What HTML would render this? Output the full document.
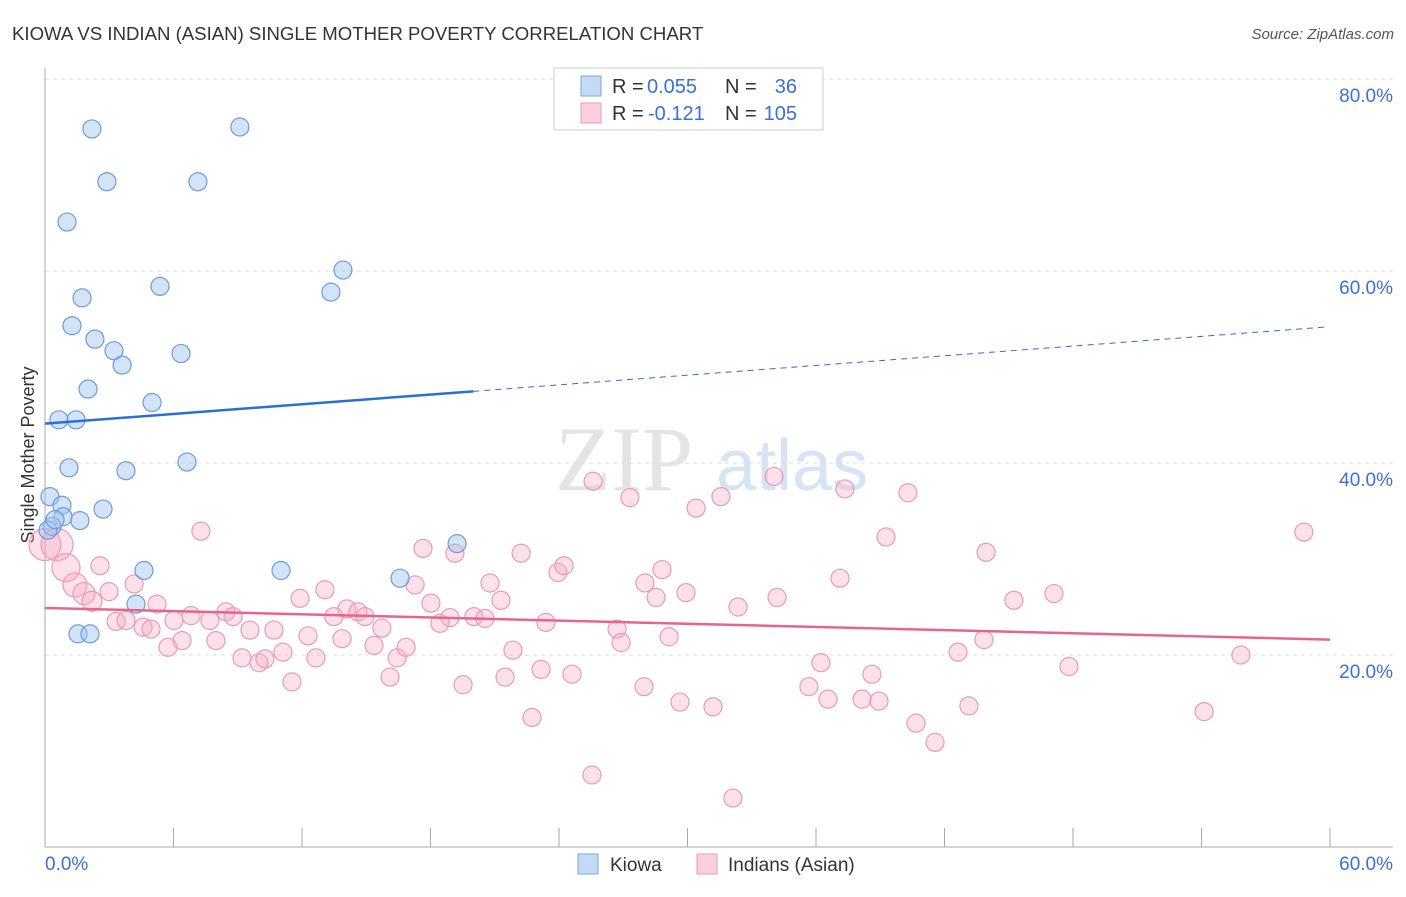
<!DOCTYPE html>
<html><head><meta charset="utf-8"><style>
body{margin:0;background:#fff;font-family:"Liberation Sans",sans-serif}
</style></head><body>
<svg id="c" width="1406" height="892" xmlns="http://www.w3.org/2000/svg">
<text x="12" y="40" font-size="18.6" fill="#333">KIOWA VS INDIAN (ASIAN) SINGLE MOTHER POVERTY CORRELATION CHART</text>
<text x="1394" y="39" font-size="15" fill="#555" text-anchor="end" font-style="italic">Source: ZipAtlas.com</text>
<g><text x="555" y="490" font-size="92" fill="#e4e4e4" font-family="Liberation Serif">ZIP</text><text x="716" y="490" font-size="72" fill="#d6e4f5">atlas</text></g>
<text transform="translate(34,455) rotate(-90)" font-size="18" fill="#333" text-anchor="middle">Single Mother Poverty</text>
<g id="grid"></g><g id="pts"></g>
<g>
<rect x="554" y="68" width="269" height="62" fill="#fff" stroke="#ccc"/>
<rect x="581" y="76" width="20" height="20" fill="#c5daf5" stroke="#7aa6e6"/>
<rect x="581" y="103" width="20" height="20" fill="#fad0de" stroke="#ec9ab5"/>
<text x="612" y="93" font-size="20" fill="#333">R =</text>
<text x="647" y="93" font-size="20" fill="#3a70d8">0.055</text>
<text x="725" y="93" font-size="20" fill="#333">N =</text>
<text x="797" y="93" font-size="20" fill="#3a70d8" text-anchor="end">36</text>
<text x="612" y="120" font-size="20" fill="#333">R =</text>
<text x="648" y="120" font-size="20" fill="#3a70d8">-0.121</text>
<text x="725" y="120" font-size="20" fill="#333">N =</text>
<text x="797" y="120" font-size="20" fill="#3a70d8" text-anchor="end">105</text>
</g>
<g>
<rect x="578" y="854" width="20" height="20" fill="#c5daf5" stroke="#7aa6e6"/>
<text x="610" y="871" font-size="19" fill="#333">Kiowa</text>
<rect x="697" y="854" width="20" height="20" fill="#fad0de" stroke="#ec9ab5"/>
<text x="728" y="871" font-size="19" fill="#333">Indians (Asian)</text>
</g>
</svg>
<script>
const kiowaX=[2.19,9.1,2.89,7.14,1.03,13.91,5.37,13.35,1.73,1.26,2.33,3.22,6.35,3.6,2.01,5.0,0.65,1.45,1.12,3.78,6.63,0.23,0.79,2.71,0.84,1.63,0.33,0.14,19.24,4.62,11.02,16.58,4.25,1.54,2.1,0.47];
const kiowaY=[74.8,75.0,69.3,69.3,65.1,60.1,58.4,57.8,57.2,54.3,52.9,51.7,51.4,50.2,47.7,46.3,44.5,44.5,39.5,39.2,40.1,36.5,35.6,35.2,34.4,34.0,33.4,33.0,31.6,28.8,28.8,28.0,25.3,22.2,22.2,34.1];
const indX=[0.0,0.56,0.98,1.4,1.82,2.19,2.57,2.99,3.32,3.78,4.16,4.58,4.95,5.23,5.74,6.02,6.4,6.82,7.28,7.7,7.98,8.45,8.78,9.2,9.57,9.99,10.27,10.69,11.11,11.53,11.91,12.28,12.65,13.07,13.49,13.87,14.1,14.61,14.94,15.36,15.73,16.11,16.44,16.86,17.28,17.65,18.02,18.44,18.91,19.14,19.52,20.03,20.54,20.78,21.29,21.48,21.85,22.23,22.74,23.16,23.39,23.95,24.23,24.61,25.59,25.54,26.71,26.9,27.31,27.97,28.01,28.53,28.81,29.14,29.65,29.93,30.4,31.19,31.56,32.12,32.36,34.04,34.18,35.67,36.23,36.56,37.12,37.35,38.15,38.61,38.94,39.27,40.29,40.67,41.56,42.63,43.14,43.84,43.94,45.24,47.11,47.81,54.12,55.84,58.78];
const indY=[31.5,31.5,29.1,27.3,26.4,25.6,29.3,26.6,23.5,23.6,27.4,22.9,22.7,25.3,20.8,23.6,21.5,24.1,32.9,23.6,21.5,24.5,24.0,19.7,22.6,19.2,19.6,22.6,20.3,17.2,25.9,22.0,19.7,26.8,24.0,21.7,24.8,24.5,24.0,21.0,22.8,17.7,19.7,20.8,27.3,31.1,25.4,23.3,23.9,30.6,16.9,24.0,23.8,27.5,25.7,17.7,20.5,30.6,13.5,18.5,23.4,28.6,29.3,18.0,38.1,7.5,22.7,21.3,36.4,16.7,27.5,26.0,28.9,21.9,15.1,26.5,35.3,14.6,36.5,5.1,25.0,38.6,26.0,16.7,19.2,15.4,28.0,37.3,15.4,18.0,15.2,32.3,36.9,12.9,10.9,20.3,14.7,21.6,30.7,25.7,26.4,18.8,14.1,20.0,32.8];
const indR=[16,16,14,12,11,10];
const yTicks=[20,40,60,80];
const xTicks=[0,6,12,18,24,30,36,42,48,54,60];
const kiowaTrend=[44.1,54.2]; const indTrend=[24.9,21.6];
const X=v=>45+v*1285/60, Y=v=>847-v*9.6;
const NS='http://www.w3.org/2000/svg';
function mk(t,a,p){const e=document.createElementNS(NS,t);for(const k in a)e.setAttribute(k,a[k]);p.appendChild(e);return e;}
const g=document.getElementById('grid'),P=document.getElementById('pts');
yTicks.forEach(t=>{const l=mk('line',{x1:45,x2:1393,y1:Y(t),y2:Y(t),stroke:'#ddd','stroke-dasharray':'4,4'},g);


const tx=mk('text',{x:1393,y:Y(t)+23,'font-size':19,fill:'#3a70d8','text-anchor':'end'},g);tx.textContent=t.toFixed(1)+'%';

});
mk('line',{x1:45,x2:45,y1:68,y2:847,stroke:'#aaa'},g);
mk('line',{x1:45,x2:1393,y1:847,y2:847,stroke:'#aaa'},g);
xTicks.forEach(t=>{const l=mk('line',{x1:X(t),x2:X(t),y1:828,y2:847,stroke:'#aaa'},g);

});
[[0,'0.0%',45,'start'],[60,'60.0%',1393,'end']].forEach(a=>{const tx=mk('text',{x:a[2],y:870,'font-size':19,fill:'#3a70d8','text-anchor':a[3]},g);tx.textContent=a[1];

});
indX.forEach((v,i)=>{const c=mk('circle',{cx:X(v),cy:Y(indY[i]),r:indR[i]||9,fill:'rgba(246,170,195,0.35)',stroke:'#eb9ab5','stroke-width':1.2},P);

});
kiowaX.forEach((v,i)=>{const c=mk('circle',{cx:X(v),cy:Y(kiowaY[i]),r:9,fill:'rgba(160,195,240,0.45)',stroke:'#6b9be0','stroke-width':1.2},P);

});
const kAt=x=>kiowaTrend[0]+(kiowaTrend[1]-kiowaTrend[0])*x/60;
let l=mk('line',{x1:X(0),y1:Y(kAt(0)),x2:X(20),y2:Y(kAt(20)),stroke:'#2a6fd6','stroke-width':2.5},P);


l=mk('line',{x1:X(20),y1:Y(kAt(20)),x2:X(59.8),y2:Y(kAt(59.8)),stroke:'#2a6fd6','stroke-width':1,'stroke-dasharray':'6,5'},P);


l=mk('line',{x1:X(0),y1:Y(indTrend[0]),x2:X(60),y2:Y(indTrend[1]),stroke:'#e6648f','stroke-width':2.5},P);


</script>
</body></html>
